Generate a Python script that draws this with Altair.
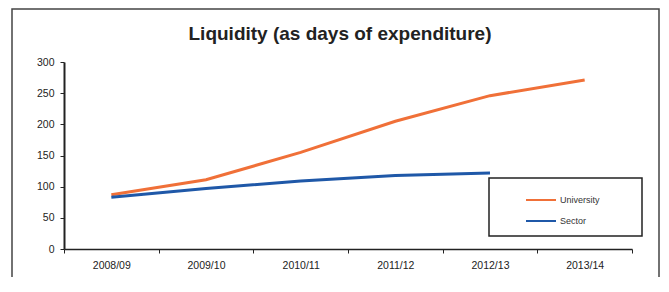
import altair as alt
import pandas as pd

years = ["2008/09", "2009/10", "2010/11", "2011/12", "2012/13", "2013/14"]
university = [87, 111, 155, 205, 246, 271]
sector_years = ["2008/09", "2009/10", "2010/11", "2011/12", "2012/13"]
sector = [83, 97, 109, 118, 122]
series_names = ["University", "Sector"]
series_colors = ["#F07038", "#1F58A8"]
y_ticks = [0, 50, 100, 150, 200, 250, 300]

rows = [{"year": y, "value": v, "series": "University"} for y, v in zip(years, university)]
rows += [{"year": y, "value": v, "series": "Sector"} for y, v in zip(sector_years, sector)]
df = pd.DataFrame(rows)

W, H = 568, 187

x_enc = alt.X(
    "year:N",
    sort=years,
    scale=alt.Scale(type="band", domain=years, paddingInner=0, paddingOuter=0),
    bandPosition=0.5,
    axis=alt.Axis(
        title=None,
        tickBand="extent",
        labelAngle=0,
        labelFontSize=10.5,
        labelFont="Liberation Sans",
        labelColor="#222222",
        labelPadding=7,
        domainColor="#222222",
        domainWidth=1.5,
        tickColor="#222222",
        tickSize=4,
        grid=False,
    ),
)
y_enc = alt.Y(
    "value:Q",
    scale=alt.Scale(domain=[0, 300], nice=False),
    axis=alt.Axis(
        title=None,
        values=y_ticks,
        labelFontSize=10.5,
        labelFont="Liberation Sans",
        labelColor="#222222",
        labelPadding=6,
        domainColor="#222222",
        domainWidth=2,
        tickColor="#222222",
        tickSize=4,
        grid=False,
    ),
)

lines = alt.Chart(df).mark_line(strokeWidth=3).encode(
    x=x_enc,
    y=y_enc,
    color=alt.Color(
        "series:N",
        scale=alt.Scale(domain=series_names, range=series_colors),
        legend=alt.Legend(
            title=None,
            orient="none",
            legendX=461,
            legendY=122,
            symbolType="stroke",
            symbolSize=900,
            symbolStrokeWidth=2,
            labelFontSize=9,
            labelFont="Liberation Sans",
            labelColor="#333333",
            labelOffset=3,
            rowPadding=-9,
            padding=0,
        ),
    ),
    detail="series:N",
)

frame = alt.Chart(pd.DataFrame({"k": [0]})).mark_rect(
    fill=None, stroke="#444444", strokeWidth=1.5
).encode(
    x=alt.value(-52), x2=alt.value(595), y=alt.value(-53), y2=alt.value(240)
)

legend_box = alt.Chart(pd.DataFrame({"k": [0]})).mark_rect(
    fill=None, stroke="#222222", strokeWidth=1.5
).encode(
    x=alt.value(425), x2=alt.value(578), y=alt.value(116), y2=alt.value(174)
)

chart = alt.layer(frame, legend_box, lines).properties(
    width=W,
    height=H,
    background="white",
    padding={"left": 56, "top": 54, "right": 29, "bottom": 28},
    autosize=alt.AutoSizeParams(type="none"),
    title=alt.TitleParams(
        "Liquidity (as days of expenditure)",
        font="Liberation Sans",
        fontSize=19,
        fontWeight="bold",
        color="#222222",
        anchor="middle",
        dx=-8,
        offset=-36,
    ),
).configure_view(strokeWidth=0, stroke="transparent")

chart.save("out.html", embed_options={"renderer": "svg", "actions": False})
